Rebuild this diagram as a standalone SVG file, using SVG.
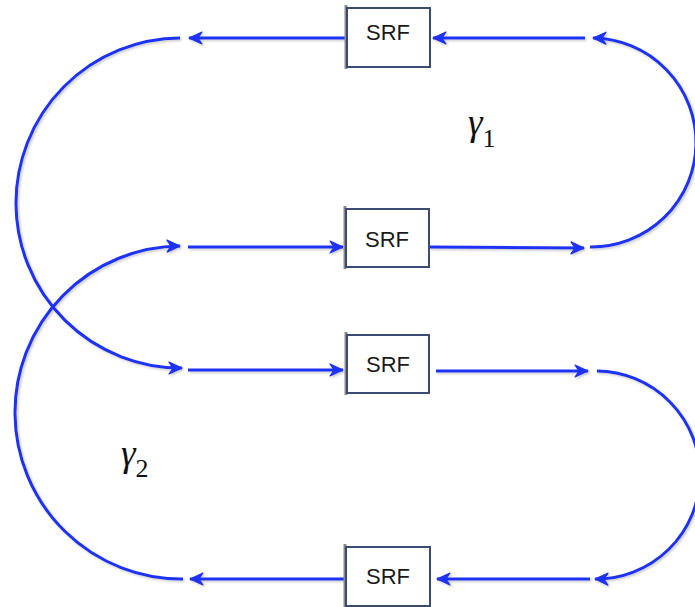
<svg xmlns="http://www.w3.org/2000/svg" width="695" height="607" viewBox="0 0 695 607">
<defs>
<marker id="ah" viewBox="0 0 15 15" refX="14" refY="7.5" markerUnits="userSpaceOnUse" markerWidth="15" markerHeight="15" orient="auto">
<path d="M1,1.5 L14,7.5 L1,13.5 L5,7.5 Z" fill="#1e32f5" stroke="#1e32f5" stroke-width="1.2" stroke-linejoin="round"/>
</marker>
<filter id="sh" x="-5%" y="-5%" width="110%" height="110%">
<feDropShadow dx="1.5" dy="1.5" stdDeviation="1" flood-color="#888" flood-opacity="0.45"/>
</filter>
</defs>
<style>
.c{fill:none;stroke:#1e32f5;stroke-width:3;stroke-linecap:butt}
.a{marker-end:url(#ah)}
.box{fill:#fff;stroke:#3c4c70;stroke-width:2}
.edge{stroke:#8a8a8a;stroke-width:3}
.lbl{font-family:"Liberation Sans",Arial,sans-serif;font-size:22px;fill:#1a1a1a;text-anchor:middle}
.g{font-family:"Liberation Serif","DejaVu Serif",serif;fill:#111}
</style>
<rect width="695" height="607" fill="#fff"/>
<g id="connectors" filter="url(#sh)">
<path class="c a" d="M590,247 A104,104 0 0 0 593,38"/>
<path class="c a" d="M585,38 L433,38"/>
<path class="c a" d="M347,38 L189,38"/>
<path class="c a" d="M180,38 A165,165 0 0 0 182,368"/>
<path class="c a" d="M188,370 L343,370"/>
<path class="c a" d="M436,371 L588,371"/>
<path class="c a" d="M597,371 A104,104 0 0 1 595,579"/>
<path class="c a" d="M590,579 L437,579"/>
<path class="c a" d="M346,579 L190,579"/>
<path class="c a" d="M183,579 A166,166 0 0 1 180,246"/>
<path class="c a" d="M188,247 L343,247"/>
<path class="c a" d="M429,247 L584,248"/>
</g>
<g id="srf1">
<line class="edge" x1="346" y1="5" x2="346" y2="69"/>
<rect class="box" x="347" y="8" width="83" height="59"/>
<text class="lbl" x="388" y="40">SRF</text>
</g>
<g id="srf2">
<line class="edge" x1="345" y1="206" x2="345" y2="269"/>
<rect class="box" x="346" y="209" width="83" height="58"/>
<text class="lbl" x="387" y="247" fill="#1a2a50">SRF</text>
</g>
<g id="srf3">
<line class="edge" x1="346" y1="332" x2="346" y2="395"/>
<rect class="box" x="347" y="335" width="82" height="58"/>
<text class="lbl" x="388" y="372">SRF</text>
</g>
<g id="srf4">
<line class="edge" x1="345" y1="544" x2="345" y2="607"/>
<rect class="box" x="346" y="547" width="84" height="59"/>
<text class="lbl" x="388" y="584">SRF</text>
</g>
<g id="gamma1">
<text class="g" x="468" y="135" font-size="37" font-style="italic">γ<tspan font-style="normal" font-size="26" dy="12">1</tspan></text>
</g>
<g id="gamma2">
<text class="g" x="121" y="466" font-size="37" font-style="italic">γ<tspan font-style="normal" font-size="26" dy="11">2</tspan></text>
</g>
</svg>
